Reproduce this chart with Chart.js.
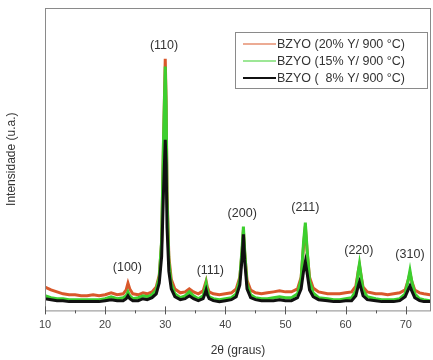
<!DOCTYPE html>
<html>
<head>
<meta charset="utf-8">
<script src="https://cdn.jsdelivr.net/npm/chart.js@4"></script>
<style>
  html, body { margin: 0; padding: 0; background: #fff; }
  #wrap { width: 433px; height: 360px; }
</style>
</head>
<body>
<div id="wrap"><canvas id="chart-xrd"></canvas></div>
<script>
// 2θ (graus)
const twoTheta = [10, 11, 12, 13, 14, 15, 16, 17, 18, 19,
  20, 21, 22, 23, 23.5, 23.8, 24.1, 24.6, 25.5, 26.3,
  27, 27.8, 28.5, 29.0, 29.4, 29.7, 30.0, 30.15, 30.3, 30.6,
  31.0, 31.6, 32.5, 33.3, 34.0, 34.7, 35.5, 36.3, 36.6, 36.8,
  37.0, 37.3, 38, 39, 40, 41, 41.8, 42.4, 42.8, 43.0,
  43.2, 43.6, 44.2, 45, 46, 47, 48, 49, 50, 51,
  52, 52.6, 53.0, 53.3, 53.6, 54.0, 54.6, 55.5, 57, 58,
  59, 60, 61, 61.7, 62.1, 62.3, 62.5, 62.9, 63.6, 65,
  66, 67, 68, 69, 69.9, 70.4, 70.7, 71.0, 71.5, 72.3,
  73, 74, 74.2];

const y20 = [24, 21, 19, 17, 16, 16, 15, 15, 16, 15,
  16, 18, 16, 17, 21, 28, 22, 17, 16, 18,
  17, 19, 24, 36, 70, 170, 258, 215, 120, 55,
  32, 22, 18, 19, 22, 19, 17, 20, 26, 30,
  24, 19, 17, 16, 17, 18, 22, 34, 62, 82,
  60, 31, 21, 18, 17, 18, 19, 20, 19, 19,
  22, 34, 66, 86, 60, 34, 23, 19, 17, 17,
  17, 18, 19, 25, 40, 46, 38, 24, 19, 17,
  17, 16, 17, 18, 21, 31, 38, 30, 21, 18,
  17, 16, 16];

const y15 = [15, 13, 12, 12, 11, 11, 11, 11, 11, 11,
  12, 14, 12, 13, 15, 19, 15, 12, 13, 15,
  14, 16, 21, 34, 72, 172, 250, 210, 115, 50,
  27, 17, 13, 15, 19, 15, 12, 15, 22, 28,
  21, 14, 12, 11, 12, 13, 17, 32, 66, 86,
  62, 27, 16, 13, 12, 12, 13, 14, 13, 13,
  17, 32, 70, 90, 62, 30, 18, 13, 12, 11,
  11, 12, 13, 20, 40, 48, 39, 21, 14, 12,
  11, 11, 11, 12, 17, 31, 41, 30, 17, 12,
  11, 10, 10];

const y8 = [12, 11, 10, 10, 9, 9, 9, 9, 9, 9,
  10, 11, 10, 10, 12, 15, 12, 10, 10, 12,
  11, 13, 17, 28, 55, 120, 175, 150, 85, 40,
  22, 14, 11, 12, 15, 12, 10, 12, 17, 21,
  16, 12, 10, 9, 10, 11, 14, 26, 55, 78,
  52, 22, 13, 11, 10, 10, 10, 11, 10, 10,
  13, 22, 40, 50, 38, 21, 14, 11, 10, 9,
  9, 10, 10, 15, 25, 29, 24, 15, 11, 10,
  9, 9, 9, 10, 14, 21, 25, 20, 13, 10,
  9, 9, 9];

const seriesNames = ['BZYO (20% Y/ 900 °C)', 'BZYO (15% Y/ 900 °C)', 'BZYO (  8% Y/ 900 °C)'];
const seriesColors = ['#d9582b', '#3ccf2e', '#111111'];

// picos (hkl)
const peakLabels = ['(100)', '(110)', '(111)', '(200)', '(211)', '(220)', '(310)'];
const peakLabelX = [23.7, 29.8, 37.5, 42.8, 53.3, 62.2, 70.7];
const peakLabelY = [44, 271, 41, 99, 105, 61, 57];

const xTicks = [10, 20, 30, 40, 50, 60, 70];
const xMinor = [15, 25, 35, 45, 55, 65];

const pts = ys => twoTheta.map((t, i) => ({ x: t, y: ys[i] }));

const FONT = 'Arial, "Liberation Sans", sans-serif';

const decor = {
  id: 'decor',
  afterDraw(chart) {
    const { ctx, chartArea: a, scales: { x, y } } = chart;
    ctx.save();
    // moldura
    ctx.strokeStyle = '#8a8a8a';
    ctx.lineWidth = 1;
    ctx.strokeRect(a.left + 0.5, a.top + 0.5, a.right - a.left - 1, a.bottom - a.top);
    // marcas do eixo x
    ctx.strokeStyle = '#555';
    ctx.beginPath();
    xTicks.forEach(v => { const px = Math.round(x.getPixelForValue(v)) + 0.5; ctx.moveTo(px, a.bottom - 4); ctx.lineTo(px, a.bottom + 4); });
    xMinor.forEach(v => { const px = Math.round(x.getPixelForValue(v)) + 0.5; ctx.moveTo(px, a.bottom); ctx.lineTo(px, a.bottom + 3); });
    ctx.stroke();
    // rótulos dos picos
    ctx.fillStyle = '#333';
    ctx.font = '12.5px ' + FONT;
    ctx.textAlign = 'center';
    ctx.textBaseline = 'middle';
    peakLabels.forEach((t, i) => ctx.fillText(t, x.getPixelForValue(peakLabelX[i]), y.getPixelForValue(peakLabelY[i])));
    // legenda
    const lx = 235, ly = 32, lw = 192, lh = 56;
    ctx.fillStyle = '#fff';
    ctx.fillRect(lx, ly, lw, lh);
    ctx.strokeStyle = '#8a8a8a';
    ctx.strokeRect(lx + 0.5, ly + 0.5, lw, lh);
    ctx.font = '12.5px ' + FONT;
    ctx.textAlign = 'left';
    seriesNames.forEach((name, i) => {
      const ry = ly + 12 + i * 17;
      ctx.strokeStyle = seriesColors[i];
      ctx.lineWidth = i === 2 ? 2 : 1.2;
      ctx.beginPath(); ctx.moveTo(lx + 8, ry); ctx.lineTo(lx + 41, ry); ctx.stroke();
      ctx.fillStyle = '#333';
      ctx.fillText(name, lx + 42, ry + 0.5);
    });
    ctx.restore();
  }
};

new Chart(document.getElementById('chart-xrd'), {
  type: 'line',
  data: {
    datasets: [
      { label: seriesNames[0], data: pts(y20), borderColor: seriesColors[0], borderWidth: 3, order: 2 },
      { label: seriesNames[1], data: pts(y15), borderColor: seriesColors[1], borderWidth: 3, order: 1 },
      { label: seriesNames[2], data: pts(y8), borderColor: seriesColors[2], borderWidth: 3, order: 0 }
    ]
  },
  options: {
    responsive: true,
    maintainAspectRatio: false,
    animation: false,
    elements: { point: { radius: 0 }, line: { tension: 0 } },
    layout: { padding: { left: 0, right: 2, top: 8, bottom: 2 } },
    plugins: { legend: { display: false }, tooltip: { enabled: false } },
    scales: {
      x: {
        type: 'linear', min: 10, max: 74.2,
        afterBuildTicks: s => { s.ticks = xTicks.map(v => ({ value: v })); },
        ticks: { font: { size: 11, family: FONT }, color: '#444', padding: 8, maxRotation: 0 },
        grid: { display: false, tickLength: 0 },
        border: { display: false },
        title: { display: true, text: '2θ (graus)', font: { size: 12, family: FONT }, color: '#333', padding: { top: 4, bottom: 0 } }
      },
      y: {
        min: 0, max: 310,
        afterFit: s => { s.width = 45; },
        ticks: { display: false },
        grid: { display: false },
        border: { display: false },
        title: { display: true, text: 'Intensidade (u.a.)', font: { size: 12, family: FONT }, color: '#333', padding: { top: 4, bottom: 0 } }
      }
    }
  },
  plugins: [decor]
});
</script>
</body>
</html>
